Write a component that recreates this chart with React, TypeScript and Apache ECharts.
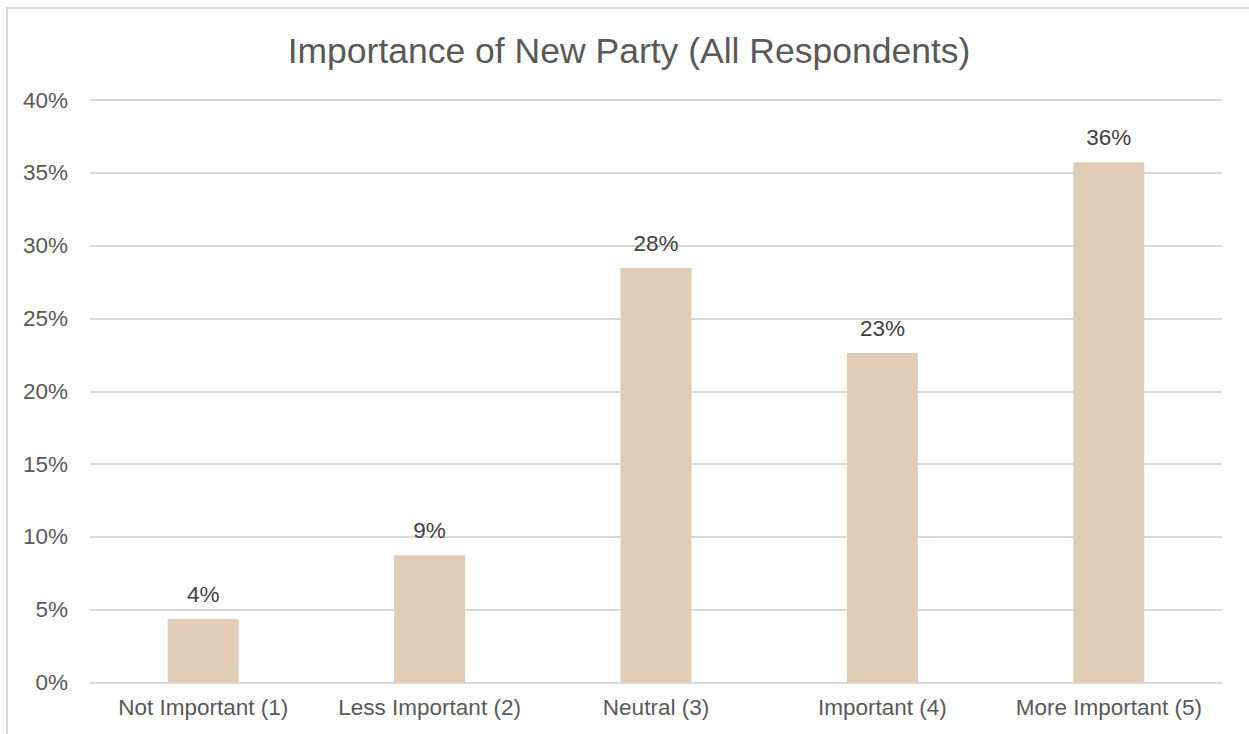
import React, { useEffect, useRef } from "react";
import * as echarts from "echarts";

const categories = [
  "Not Important (1)",
  "Less Important (2)",
  "Neutral (3)",
  "Important (4)",
  "More Important (5)",
];
const values = [4.36, 8.74, 28.47, 22.63, 35.73];
const yTicks = { min: 0, max: 40, interval: 5 };
const titleText = "Importance of New Party (All Respondents)";

export default function App() {
  const ref = useRef<HTMLDivElement>(null);
  useEffect(() => {
    if (!ref.current) return;
    const chart = echarts.init(ref.current, null, { renderer: "svg" });
    const font = "Liberation Sans, Arial, Helvetica, sans-serif";
    chart.setOption({
      animation: false,
      backgroundColor: "#ffffff",
      textStyle: { fontFamily: font },
      title: {
        text: titleText,
        left: 624,
        textAlign: "center",
        top: 28,
        textStyle: { fontFamily: font, fontSize: 35.5, fontWeight: "normal", color: "#595959" },
      },
      graphic: [
        {
          type: "rect",
          shape: { x: 7, y: 8, width: 1400, height: 900 },
          style: { fill: "none", stroke: "#d9d9d9", lineWidth: 2 },
          silent: true,
          z: -1,
        },
      ],
      grid: { left: 90, right: 27, top: 100, bottom: 51.5, containLabel: false },
      xAxis: {
        type: "category",
        data: categories,
        axisLine: { show: true, lineStyle: { color: "#d9d9d9", width: 2 } },
        axisTick: { show: false },
        axisLabel: { color: "#595959", fontSize: 22.5, margin: 13, fontFamily: font, interval: 0 },
      },
      yAxis: {
        type: "value",
        min: yTicks.min,
        max: yTicks.max,
        interval: yTicks.interval,
        axisLine: { show: false },
        axisTick: { show: false },
        axisLabel: { color: "#595959", fontSize: 22.5, margin: 22, formatter: "{value}%", fontFamily: font },
        splitLine: { lineStyle: { color: "#d9d9d9", width: 2 } },
      },
      series: [
        {
          type: "bar",
          data: values,
          barWidth: 71,
          itemStyle: { color: "#E1CCB8" },
          label: {
            show: true,
            position: "top",
            distance: 13,
            color: "#404040",
            fontSize: 22.5,
            fontFamily: font,
            formatter: (p: any) => Math.round(p.value) + "%",
          },
        },
      ],
    });
    return () => chart.dispose();
  }, []);
  return (
    <div
      ref={ref}
      style={{ position: "absolute", left: 0, top: 0, width: 1249, height: 734 }}
    />
  );
}
